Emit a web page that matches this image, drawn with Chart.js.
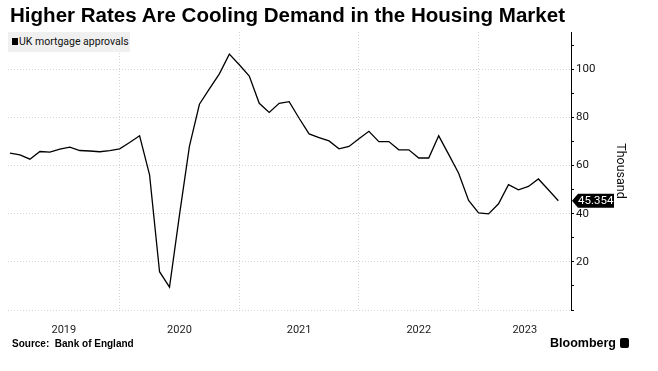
<!DOCTYPE html>
<html>
<head>
<meta charset="utf-8">
<script src="https://cdn.jsdelivr.net/npm/chart.js@4.4.0/dist/chart.umd.min.js"></script>
<style>
  html, body { margin: 0; padding: 0; background: #fff; }
  #wrap { position: relative; width: 658px; height: 371px; overflow: hidden; font-family: Roboto, "Liberation Sans", sans-serif; }
  #chart { position: absolute; left: 0; top: 0; }
  #title { position: absolute; left: 10px; top: 4px; font: bold 20px "Liberation Sans", sans-serif; white-space: nowrap; transform-origin: 0 0; color: #000; }
  #legend { position: absolute; left: 8px; top: 32px; width: 122px; height: 20px; background: #f0f0f0; font-size: 10.5px; line-height: 20px; color: #111; white-space: nowrap; }
  #legend .sw { display: inline-block; width: 6px; height: 7px; background: #000; margin: 0 1px 0 4px; }
  #source { position: absolute; left: 12px; top: 338px; font: bold 10px "Liberation Sans", sans-serif; color: #000; }
  #brand { position: absolute; left: 550px; top: 336px; font: bold 12.5px "Liberation Sans", sans-serif; color: #000; }
  #brand .logo { display: inline-block; width: 9px; height: 10px; background: #000; border-radius: 2px; margin-left: 4px; vertical-align: -1px; }
</style>
</head>
<body>
<div id="wrap">
  <canvas id="chart" width="658" height="371"></canvas>
  <div id="title">Higher Rates Are Cooling Demand in the Housing Market</div>
  <div id="legend"><span class="sw"></span>UK mortgage approvals</div>
  <div id="source">Source:&nbsp; Bank of England</div>
  <div id="brand">Bloomberg<span class="logo"></span></div>
</div>
<script>
// monthly, Jan 2019 .. Aug 2023 (thousands)
const approvals = [
    65.1, 64.4, 62.6, 65.8, 65.5, 66.8, 67.6, 66.2, 66.0, 65.7, 66.2, 66.9,
    69.5, 72.3, 56.1, 15.9, 9.5, 39.5, 68.0, 85.4, 91.8, 98.0, 106.2, 101.8,
    97.1, 85.8, 82.0, 85.8, 86.5, 79.6, 73.1, 71.6, 70.2, 66.9, 67.9, 71.1,
    74.2, 69.9, 69.9, 66.5, 66.5, 63.1, 63.1, 72.3, 64.6, 56.8, 45.5, 40.3,
    39.9, 44.1, 52.0, 49.9, 51.3, 54.4, 49.9, 45.354
];
const years = ['2019', '2020', '2021', '2022', '2023'];
const yTicks = [0, 10, 20, 30, 40, 50, 60, 70, 80, 90, 100, 110];

// x is month index, point i sits at the end of month i
const xMin = -0.2, xMax = 56.27;
const yearEnds = [11, 23, 35, 47];
const bounds = [xMin].concat(yearEnds, [xMax]);
const yearMids = years.map((y, i) => (bounds[i] + bounds[i + 1]) / 2);

// fit title to width
const t = document.getElementById('title');
t.style.transform = 'scaleX(' + (555 / t.getBoundingClientRect().width) + ')';

const lastTag = {
    id: 'lastTag',
    afterDraw(chart) {
        const meta = chart.getDatasetMeta(0);
        const pt = meta.data[meta.data.length - 1];
        const ctx = chart.ctx;
        const x = chart.chartArea.right + 1, y = pt.y;
        ctx.save();
        ctx.fillStyle = '#000';
        ctx.beginPath();
        ctx.moveTo(x, y);
        ctx.lineTo(x + 6, y - 7);
        ctx.lineTo(x + 42, y - 7);
        ctx.lineTo(x + 42, y + 7);
        ctx.lineTo(x + 6, y + 7);
        ctx.closePath();
        ctx.fill();
        ctx.fillStyle = '#fff';
        ctx.font = '11.5px Roboto, "Liberation Sans", sans-serif';
        ctx.textBaseline = 'middle';
        ctx.fillText(approvals[approvals.length - 1].toFixed(3), x + 6, y + 0.5);
        ctx.restore();
    }
};

new Chart(document.getElementById('chart'), {
    type: 'line',
    data: {
        datasets: [{
            label: 'UK mortgage approvals',
            data: approvals.map((v, i) => ({ x: i, y: v })),
            borderColor: '#000',
            borderWidth: 1.3,
            pointRadius: 0,
            tension: 0,
            fill: false
        }]
    },
    options: {
        responsive: false,
        animation: false,
        layout: { padding: { left: 8, top: 32, right: 0, bottom: 31 } },
        scales: {
            x: {
                type: 'linear', min: xMin, max: xMax,
                afterBuildTicks: s => { s.ticks = yearEnds.map(v => ({ value: v })); },
                grid: { color: '#d4d4d4', lineWidth: 1, drawTicks: false },
                border: { display: false, dash: [1, 2] },
                ticks: { display: false },
                afterFit: s => { s.height = 0; }
            },
            x2: {
                type: 'linear', position: 'bottom', min: xMin, max: xMax,
                afterBuildTicks: s => { s.ticks = yearMids.map(v => ({ value: v })); },
                grid: { display: false, drawTicks: false },
                border: { display: false },
                ticks: {
                    callback: (v, i) => years[i],
                    autoSkip: false, maxRotation: 0,
                    padding: 14, color: '#222',
                    font: { family: 'Roboto', size: 11 }
                },
                afterFit: s => { s.height = 30; }
            },
            y: {
                position: 'right', min: 0, max: 115.4,
                afterBuildTicks: s => { s.ticks = yTicks.map(v => ({ value: v })); },
                grid: {
                    color: c => (c.tick && c.tick.value % 20 === 0) ? '#d4d4d4' : 'rgba(0,0,0,0)',
                    tickColor: '#000', tickLength: 3
                },
                border: { display: true, color: '#000', width: 1, dash: [1, 2] },
                ticks: {
                    callback: v => (v % 20 === 0 && v > 0) ? v : '',
                    padding: 2, color: '#111',
                    font: { family: 'Roboto', size: 11.5 }
                },
                title: {
                    display: true, text: 'Thousand', color: '#111',
                    font: { family: 'Roboto', size: 12.5 },
                    padding: { top: 30, bottom: 0 }
                },
                afterFit: s => { s.width = 87; }
            }
        },
        plugins: {
            legend: { display: false },
            tooltip: { enabled: false }
        }
    },
    plugins: [lastTag]
});
</script>
</body>
</html>
